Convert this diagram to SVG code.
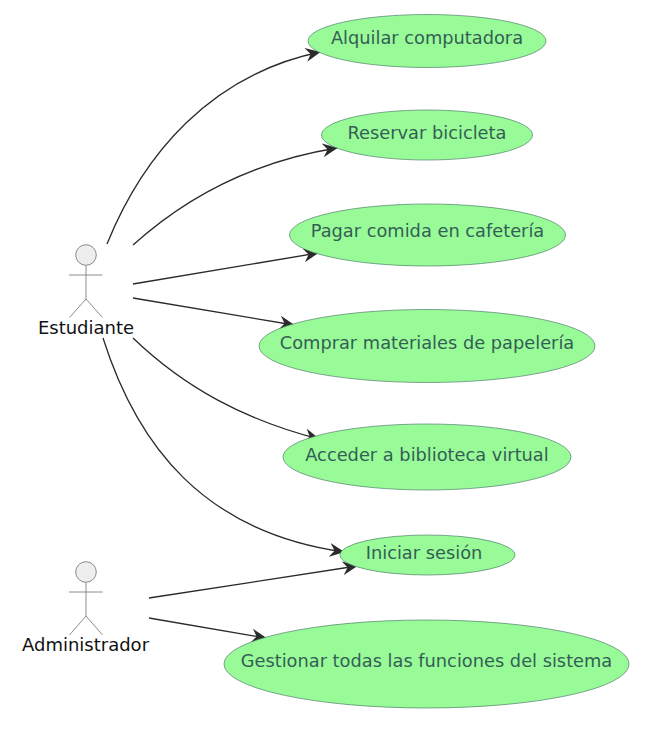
<svg xmlns="http://www.w3.org/2000/svg" width="660" height="730" viewBox="0 0 660 730">
<style>
.uc{fill:#98fb98;stroke:#4f7f6a;stroke-width:.7}
.ut{font-family:"DejaVu Sans",sans-serif;font-size:17.8px;fill:#355e55;text-anchor:middle}
.at{font-family:"DejaVu Sans",sans-serif;font-size:18px;fill:#111;text-anchor:middle}
.head{fill:#eee;stroke:#8c8c8c;stroke-width:1}
.body{fill:none;stroke:#8c8c8c;stroke-width:1}
.c{fill:none;stroke:#2a2a2a;stroke-width:1.3;marker-end:url(#a)}
</style>
<defs>
<marker id="a" markerUnits="userSpaceOnUse" markerWidth="16" markerHeight="14" refX="14.500" refY="7" orient="auto" viewBox="0 0 16 14">
<path d="M0 0L15 7L0 14L5 7Z" fill="#2a2a2a"/>
</marker>
</defs>
<rect width="660" height="730" fill="#fff"/>
<g id="connectors">
<path class="c" d="M107 244C143 155 210 75 320 52"/>
<path class="c" d="M133 245C185 198 250 162 337 148"/>
<path class="c" d="M133 284L318 253"/>
<path class="c" d="M133 298L294 325"/>
<path class="c" d="M133 338C185 388 245 420 319 439"/>
<path class="c" d="M103 338C137 445 203 532 344 552"/>
<path class="c" d="M149 598L357 566"/>
<path class="c" d="M149 618L266 638"/>
</g>
<g id="actor-estudiante">
<circle class="head" cx="86" cy="255" r="10.3"/>
<path class="body" d="M86 265.500V299M69 275H102.500M86 299L69.500 317.500M86 299L102.500 317.500"/>
<text class="at" x="86" y="334">Estudiante</text>
</g>
<g id="actor-administrador">
<circle class="head" cx="86" cy="572" r="10.300"/>
<path class="body" d="M86 582.500V616M69 592H102.500M86 616L69.500 635M86 616L102.500 635"/>
<text class="at" x="85.500" y="651">Administrador</text>
</g>
<g id="uc1"><ellipse class="uc" cx="427" cy="41" rx="119" ry="26.500"/><text class="ut" x="427" y="44">Alquilar computadora</text></g>
<g id="uc2"><ellipse class="uc" cx="427" cy="135" rx="105.500" ry="25"/><text class="ut" x="427" y="139">Reservar bicicleta</text></g>
<g id="uc3"><ellipse class="uc" cx="427.500" cy="235" rx="138" ry="31"/><text class="ut" x="427.500" y="237">Pagar comida en cafetería</text></g>
<g id="uc4"><ellipse class="uc" cx="427" cy="346" rx="168" ry="36.500"/><text class="ut" x="427" y="349">Comprar materiales de papelería</text></g>
<g id="uc5"><ellipse class="uc" cx="427" cy="457" rx="144" ry="33"/><text class="ut" x="427" y="461">Acceder a biblioteca virtual</text></g>
<g id="uc6"><ellipse class="uc" cx="427.500" cy="555" rx="87.500" ry="20"/><text class="ut" x="424" y="559">Iniciar sesión</text></g>
<g id="uc7"><ellipse class="uc" cx="426.500" cy="664" rx="202.500" ry="44"/><text class="ut" x="426.500" y="667">Gestionar todas las funciones del sistema</text></g>
</svg>
